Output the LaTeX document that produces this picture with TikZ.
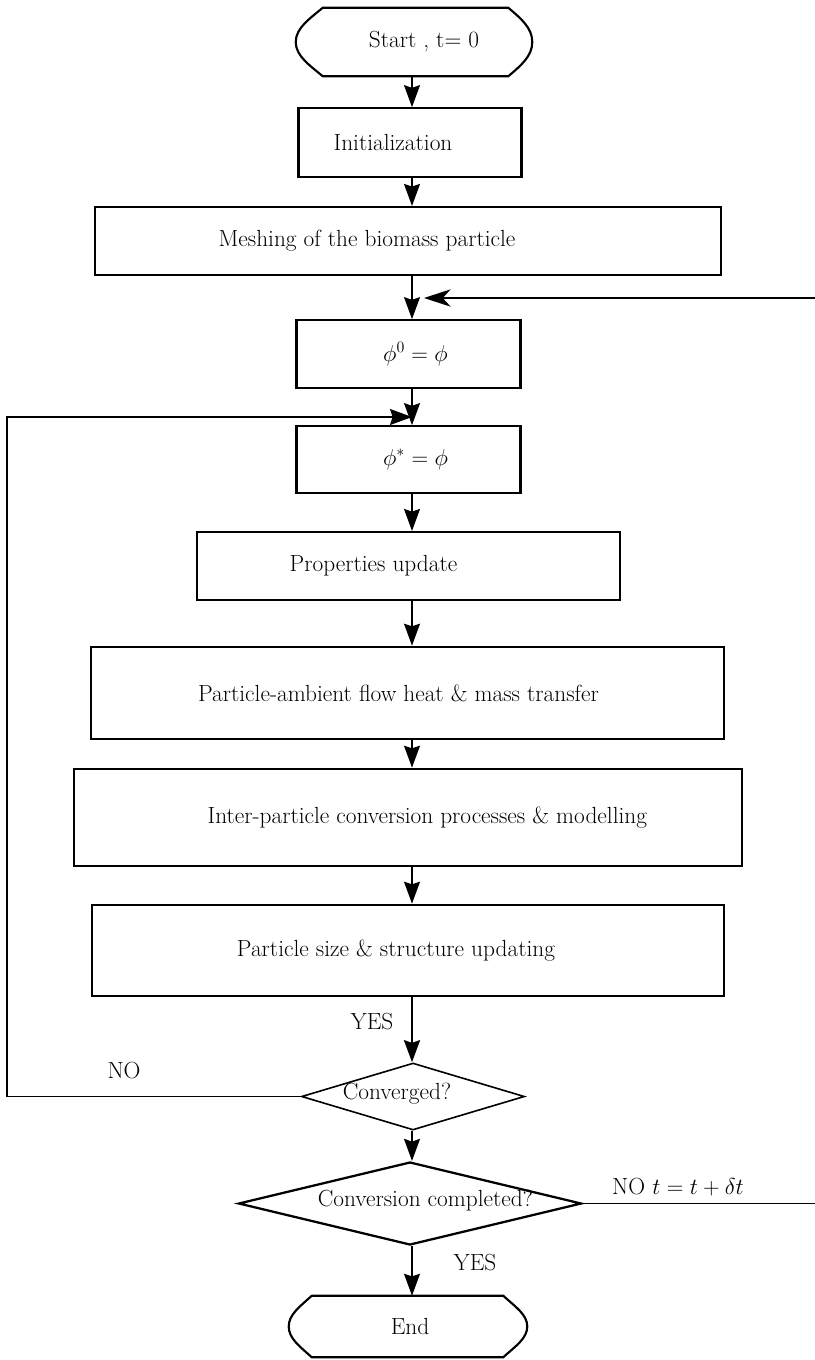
\documentclass[tikz,border=0pt]{standalone}
\usetikzlibrary{arrows.meta,calc,shapes.geometric}
% place a text centred, shifted sideways by half of #1
\newcommand{\mvtxt}[2]{\makebox[0pt]{\hspace*{#1}#2}}
\begin{document}
\begin{tikzpicture}[x=0.75pt,y=-0.75pt,
  font=\fontsize{17.5}{21}\selectfont,
  box/.style={draw, rectangle, inner sep=0pt, line width=1.6pt},
  heavybox/.style={box, line width=2pt},
  lightbox/.style={box, line width=1.3pt},
  sides/.style={line width=2.4pt},
  conn/.style={line width=1pt},
  arr/.style={conn, -{Stealth[length=16.5pt,width=12pt,inset=2pt]}},
  bigarr/.style={conn, -{Stealth[length=20pt,width=13pt,inset=6pt]}},
  dec/.style={draw, diamond, inner sep=0pt},
  term/.style={line width=1.6pt, line join=miter},
  lbl/.style={inner sep=0pt}]
\fill[white] (0,0) rectangle (814,1360);
\useasboundingbox (0,0) rectangle (814,1360);

% ---------- terminals ----------
\node[lbl, minimum width=177pt, minimum height=51pt] (start) at (414,42)
  {\mvtxt{15pt}{Start , t= 0}};
\draw[term] ($(start.north west)+(27,0)$) -- ($(start.north east)+(-24,0)$)
  .. controls +(13,11) and +(0,-14) .. (start.east)
  .. controls +(0,14) and +(13,-11) .. ($(start.south east)+(-24,0)$)
  -- ($(start.south west)+(27,0)$)
  .. controls +(-13,-11) and +(0,14) .. (start.west)
  .. controls +(0,-14) and +(-13,11) .. ($(start.north west)+(27,0)$) -- cycle;

\node[lbl, minimum width=178.5pt, minimum height=45.75pt] (endn) at (408,1326.5)
  {\mvtxt{3pt}{End}};
\draw[term] ($(endn.north west)+(23,0)$) -- ($(endn.north east)+(-24,0)$)
  .. controls +(12,11) and +(0,-12) .. (endn.east)
  .. controls +(0,12) and +(12,-11) .. ($(endn.south east)+(-24,0)$)
  -- ($(endn.south west)+(23,0)$)
  .. controls +(-12,-11) and +(0,12) .. (endn.west)
  .. controls +(0,-12) and +(-12,11) .. ($(endn.north west)+(23,0)$) -- cycle;

% ---------- process boxes ----------
\node[lightbox, minimum width=166.5pt, minimum height=51.75pt] (init) at (410,142.5)
  {\mvtxt{-25.5pt}{Initialization}};
\node[box, minimum width=469.5pt, minimum height=51pt] (mesh) at (408,241)
  {\mvtxt{-61.5pt}{Meshing of the biomass particle}};
\node[lightbox, minimum width=167.25pt, minimum height=51pt] (phiz) at (408.5,354)
  {\mvtxt{10.5pt}{$\phi^0 = \phi$}};
\node[lightbox, minimum width=167.25pt, minimum height=50.25pt] (phis) at (408.5,459.5)
  {\mvtxt{10.5pt}{$\phi^* = \phi$}};
\node[box, minimum width=317.25pt, minimum height=51pt] (props) at (408.5,566)
  {\mvtxt{-52.5pt}{Properties update}};
\node[heavybox, minimum width=474.75pt, minimum height=69pt] (amb) at (407.5,693)
  {\mvtxt{-13.5pt}{Particle-ambient flow heat \& mass transfer}};
\node[heavybox, minimum width=501pt, minimum height=72.75pt] (inter) at (408,817.5)
  {\mvtxt{29pt}{Inter-particle conversion processes \& modelling}};
\node[heavybox, minimum width=474pt, minimum height=68.25pt] (size) at (408,950.5)
  {\mvtxt{-18pt}{Particle size \& structure updating}};

% heavier side edges
\foreach \b in {init,phiz,phis}{
  \draw[sides] (\b.north west) -- (\b.south west);
  \draw[sides] (\b.north east) -- (\b.south east);
}

% ---------- decisions ----------
\node[dec, line width=1.2pt, minimum width=167.25pt, minimum height=50.25pt] (conv) at (413,1096.5)
  {\smash{\raisebox{-2pt}{\mvtxt{-24pt}{Converged?}}}};
\node[dec, line width=1.7pt, minimum width=257.25pt, minimum height=62.25pt] (done) at (410,1203.5)
  {\smash{\raisebox{-2pt}{\mvtxt{23pt}{Conversion completed?}}}};

% ---------- connectors ----------
\coordinate (ax) at (412,0);
\coordinate (lft) at (7,0);
\coordinate (rgt) at (818,0);
\coordinate (jn) at (412,417);
\coordinate (mj) at (424,298);

\draw[arr] (start.south -| ax) -- (init.north -| ax);
\draw[arr] (init.south -| ax) -- (mesh.north -| ax);
\draw[arr] (mesh.south -| ax) -- (phiz.north -| ax);
\draw[arr] (phiz.south -| ax) -- (phis.north -| ax);
\draw[arr] (phis.south -| ax) -- (props.north -| ax);
\draw[arr] (props.south -| ax) -- (amb.north -| ax);
\draw[arr] (amb.south -| ax) -- (inter.north -| ax);
\draw[arr] (inter.south -| ax) -- (size.north -| ax);
\draw[arr, line width=2pt] (size.south -| ax) -- (conv.north -| ax);
\draw[arr] (conv.south -| ax) -- (done.north -| ax);
\draw[arr] (done.south -| ax) -- (endn.north -| ax);

% not converged: back to the inner iteration
\draw[arr] (conv.west) -- (conv.west -| lft) |- (jn);
% conversion not completed: next time step
\draw[bigarr] (done.east) -- (done.east -| rgt) |- (mj);

% ---------- labels ----------
\node[lbl] (yes1) at (372,1022) {YES};
\node[lbl] (no1) at (124,1071) {NO};
\node[lbl] (no2) at (678,1187) {NO $t = t + \delta t$};
\node[lbl] (yes2) at (475,1263) {YES};
\end{tikzpicture}
\end{document}
